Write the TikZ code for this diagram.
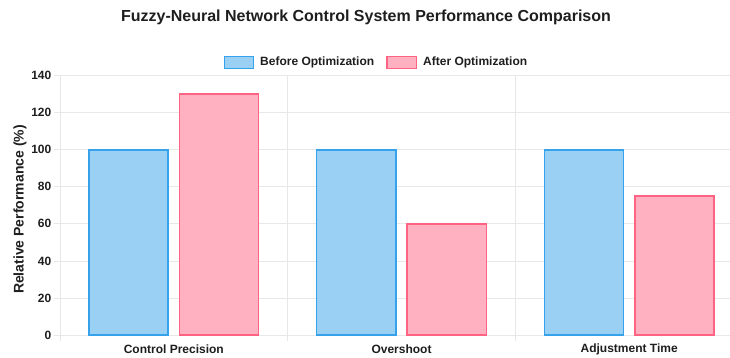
\documentclass[tikz,border=0pt]{standalone}
\usepackage{fontspec}
\setmainfont{Liberation Sans}
\definecolor{bluefill}{RGB}{155,208,245}
\definecolor{blueline}{RGB}{54,162,235}
\definecolor{pinkfill}{RGB}{255,177,193}
\definecolor{pinkline}{RGB}{255,99,132}
\definecolor{gridc}{RGB}{232,232,232}
\definecolor{txtc}{RGB}{30,30,30}
\tikzset{
  gridline/.style={draw=gridc, line width=0.8pt},
  bluebar/.style={fill=bluefill, draw=blueline, line width=1.6pt},
  pinkbar/.style={fill=pinkfill, draw=pinkline, line width=1.6pt},
  ticklbl/.style={text=txtc, font=\bfseries\fontsize{12}{14}\selectfont, inner sep=0pt},
  legendlbl/.style={text=txtc, font=\bfseries\fontsize{12}{14}\selectfont, inner sep=0pt, anchor=west},
}
\newcommand{\yv}[1]{335-#1*1.8523}
\begin{document}
\begin{tikzpicture}[x=1pt,y=-1pt]
\useasboundingbox (0,0) rectangle (730,358);
\clip (0,0) rectangle (730,358);
% horizontal grid
\foreach \v in {0,20,...,140} {
  \draw[gridline] (54,{\yv{\v}}) -- (745,{\yv{\v}});
  \node[ticklbl, anchor=east] (y\v) at (51.5,{\yv{\v}}) {\v};
}
% vertical grid
\foreach \x in {60,287.7,515.4} {
  \draw[gridline] (\x,75.7) -- (\x,341);
}
% bars
\draw[bluebar] (88.9,335) rectangle (168,{\yv{100}});
\draw[pinkbar] (179.5,335) rectangle (258.6,{\yv{130}});
\draw[bluebar] (316.6,335) rectangle (395.7,{\yv{100}});
\draw[pinkbar] (407.2,335) rectangle (486.3,{\yv{60}});
\draw[bluebar] (544.3,335) rectangle (623.4,{\yv{100}});
\draw[pinkbar] (634.9,335) rectangle (714,{\yv{75}});
% category labels
\node[ticklbl] (c1) at (173.8,349.5) {Control Precision};
\node[ticklbl] (c2) at (401.5,349.5) {Overshoot};
\node[ticklbl] (c3) at (629.2,349.5) {Adjustment Time};
% axis title
\node[text=txtc, font=\bfseries\fontsize{14}{16}\selectfont, rotate=90, inner sep=0pt] (ytitle) at (20,209.5) {Relative Performance (\%)};
% title
\node[text=txtc, font=\bfseries\fontsize{16}{18}\selectfont, inner sep=0pt] (title) at (366,17.5) {Fuzzy-Neural Network Control System Performance Comparison};
% legend
\draw[fill=bluefill, draw=blueline, line width=1.6pt] (224.5,56.5) rectangle (253.5,68.5);
\node[legendlbl] (l1) at (260,62.5) {Before Optimization};
\draw[fill=pinkfill, draw=pinkline, line width=1.6pt] (387,56.5) rectangle (416.5,68.5);
\node[legendlbl] (l2) at (423,62.5) {After Optimization};
\end{tikzpicture}
\end{document}
